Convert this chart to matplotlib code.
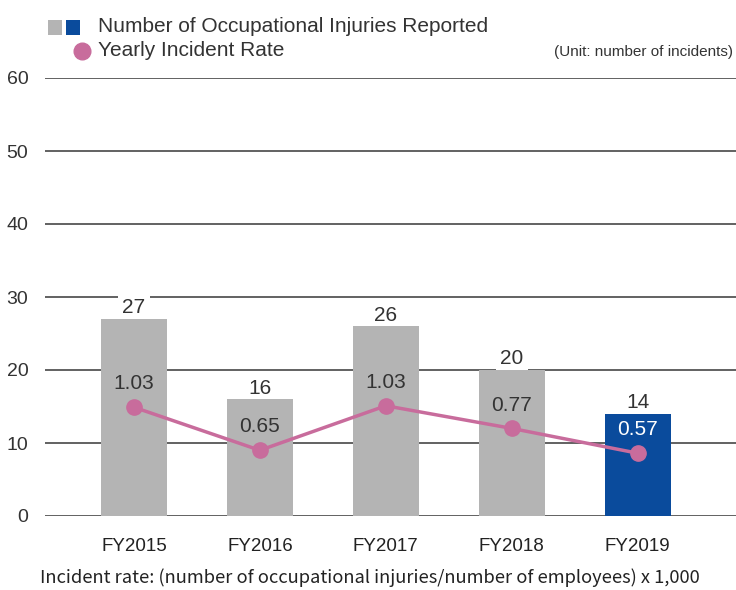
import matplotlib
matplotlib.use("Agg")
import matplotlib.pyplot as plt
from matplotlib.patches import Rectangle

plt.rcParams['font.family'] = ["Liberation Sans", 'DejaVu Sans']

categories = ["FY2015", "FY2016", "FY2017", "FY2018", "FY2019"]
injuries = [27, 16, 26, 20, 14]
rates = [1.03, 0.65, 1.03, 0.77, 0.57]
rate_marker_pos = [14.9, 9.0, 15.1, 12.0, 8.6]   # marker heights as read on the count axis
yticks = [0, 10, 20, 30, 40, 50, 60]

gray = "#b4b4b4"
blue = "#0a4b9c"
pink = "#c86c9c"
gridc = "#555555"
textc = "#333333"

fig = plt.figure(figsize=(7.36, 5.9), dpi=100)
ax = fig.add_axes([45/736, 74/590, 691/736, 438/590])
ax.set_xlim(-0.706, 4.78)
ax.set_ylim(0, 60)

for y in yticks:
    ax.axhline(y, color=gridc, lw=1.3, zorder=1)

colors = [gray] * (len(categories) - 1) + [blue]
x = list(range(len(categories)))
ax.bar(x, injuries, width=0.52, color=colors, zorder=2)
for xi, v in zip(x, injuries):
    ax.annotate(str(v), (xi, v), xytext=(0, 4), textcoords="offset points",
                ha="center", va="baseline", fontsize=15, color=textc, zorder=1.5,
                bbox=dict(boxstyle="square,pad=0.2", fc="white", ec="none"))

ax.plot(x, rate_marker_pos, color=pink, lw=2.5, marker="o", ms=11, zorder=3)
for xi, yv, r in zip(x, rate_marker_pos, rates):
    c = "white" if xi == len(categories) - 1 else textc
    ax.annotate(f"{r:.2f}", (xi, yv), xytext=(0, 10), textcoords="offset points",
                ha="center", va="bottom", fontsize=15, color=c, zorder=5)

ax.set_xticks(x)
ax.set_xticklabels(categories, fontsize=13.5, color="#222222", fontweight="medium")
ax.set_yticks(yticks)
ax.set_yticklabels([str(t) for t in yticks], fontsize=14, color=textc)
ax.tick_params(axis="x", length=0, pad=16)
ax.tick_params(axis="y", length=0, pad=12)
for s in ax.spines.values():
    s.set_visible(False)

# legend
fig.patches.append(Rectangle((48/736, 1-35/590), 14/736, 15/590, transform=fig.transFigure,
                             fc=gray, ec="none"))
fig.patches.append(Rectangle((66/736, 1-35/590), 14/736, 15/590, transform=fig.transFigure,
                             fc=blue, ec="none"))
fig.text(98/736, 1-27/590, "Number of Occupational Injuries Reported", fontsize=15,
         color=textc, va="center", ha="left")
fig.add_artist(plt.Line2D([82/736], [1-51/590], marker="o", ms=12, color=pink,
                          transform=fig.transFigure, lw=0))
fig.text(98/736, 1-51/590, "Yearly Incident Rate", fontsize=15, color=textc,
         va="center", ha="left")
fig.text(733/736, 1-52/590, "(Unit: number of incidents)", fontsize=11, color=textc,
         va="center", ha="right")

fig.text(370/736, 1-578/590,
         "Incident rate: (number of occupational injuries/number of employees) x 1,000",
         fontsize=13.2, color="#222222", ha="center", va="center",
         family=["Noto Sans CJK JP", "DejaVu Sans"])

fig.savefig("out.png", dpi=100)
